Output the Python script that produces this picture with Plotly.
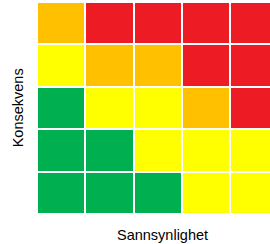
import plotly.graph_objects as go

# Risk matrix: rows = Konsekvens (1 bottom .. 5 top), cols = Sannsynlighet (1..5)
# levels: 0 = green, 1 = yellow, 2 = orange, 3 = red
sannsynlighet = [1, 2, 3, 4, 5]
konsekvens = [1, 2, 3, 4, 5]
risk_rows = [
    [0, 0, 0, 1, 1],  # konsekvens 1
    [0, 0, 1, 1, 1],  # konsekvens 2
    [0, 1, 1, 2, 3],  # konsekvens 3
    [1, 2, 2, 3, 3],  # konsekvens 4
    [2, 3, 3, 3, 3],  # konsekvens 5
]
level_colors = ["#00B050", "#FFFF00", "#FFC000", "#ED1C24"]

colorscale = []
n = len(level_colors)
for i, c in enumerate(level_colors):
    colorscale.append([i / n, c])
    colorscale.append([(i + 1) / n, c])

fig = go.Figure(go.Heatmap(
    x=sannsynlighet, y=konsekvens, z=risk_rows,
    zmin=-0.5, zmax=n - 0.5,
    colorscale=colorscale, showscale=False,
    xgap=2, ygap=2, hoverinfo="skip",
))

fig.update_xaxes(range=[0.5, 5.32], showticklabels=False, showgrid=False,
                 zeroline=False, showline=False, ticks="")
fig.update_yaxes(range=[0.5, 5.5], showticklabels=False, showgrid=False,
                 zeroline=False, showline=False, ticks="")

fig.add_annotation(text="Sannsynlighet", xref="paper", yref="paper",
                   x=0.54, y=-0.05, xanchor="center", yanchor="top",
                   showarrow=False, font=dict(size=14.5, color="#000000"))
fig.add_annotation(text="Konsekvens", xref="paper", yref="paper",
                   x=-0.08, y=0.5, xanchor="center", yanchor="middle",
                   textangle=-90, showarrow=False,
                   font=dict(size=14.5, color="#000000"))

fig.update_layout(
    width=270, height=244,
    margin=dict(l=37, r=0, t=2, b=30),
    paper_bgcolor="white", plot_bgcolor="white",
    font=dict(family="Liberation Sans, Arial, sans-serif"),
)

fig.write_html("out.html", config={"displayModeBar": False},
               post_script="document.body.style.margin='0';")
